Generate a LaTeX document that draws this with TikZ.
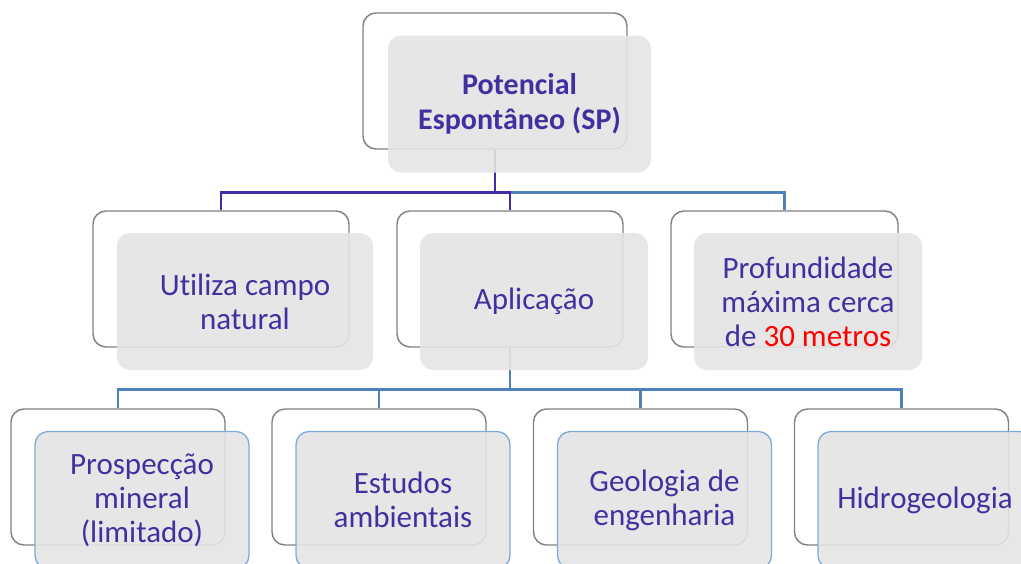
\documentclass[tikz,border=0pt]{standalone}
\usepackage{fontspec}
\setmainfont{Carlito}[Ligatures=CommonOff]
\definecolor{txtpurple}{RGB}{64,49,160}
\definecolor{linepurple}{RGB}{62,44,168}
\definecolor{lineblue}{RGB}{79,129,189}
\definecolor{backgray}{RGB}{128,128,128}
\definecolor{frontgray}{RGB}{228,228,228}
\definecolor{leafblue}{RGB}{125,170,222}
\tikzset{
  backbox/.style={draw=backgray, line width=1.4pt, rounded corners=13pt,
    fill=white, minimum height=136pt, inner sep=0pt},
  frontbox/.style={fill=frontgray, fill opacity=0.9, text opacity=1,
    rounded corners=13pt, minimum height=137pt, inner sep=0pt, align=center,
    text=txtpurple, font=\fontsize{31}{34}\selectfont},
  leafbox/.style={frontbox, draw=leafblue, line width=1.3pt, draw opacity=1},
  purpleline/.style={draw=linepurple, line width=2.5pt},
  blueline/.style={draw=lineblue, line width=2.5pt},
}
\begin{document}
\begin{tikzpicture}[x=1pt, y=-1pt]
  \useasboundingbox (0,0) rectangle (1021,563);
  \clip (0,0) rectangle (1021,563);
  % back outlines
  \node[backbox, minimum width=264pt] (topback) at (495,81) {};
  \node[backbox, minimum width=256pt] (utilback) at (221,279) {};
  \node[backbox, minimum width=226pt] (appback) at (510,279) {};
  \node[backbox, minimum width=227pt] (profback) at (784.5,279) {};
  \node[backbox, minimum width=214pt] (prospback) at (118,477) {};
  \node[backbox, minimum width=214pt] (estback) at (379,477) {};
  \node[backbox, minimum width=214pt] (geoback) at (640.5,477) {};
  \node[backbox, minimum width=214pt] (hidroback) at (901.5,477) {};
  % connectors, first level
  \draw[blueline] (topback.south) -- ++(0,43) -| (profback.north);
  \draw[purpleline] (topback.south) -- ++(0,43) -| (utilback.north);
  \draw[purpleline] (topback.south) -- ++(0,43) -| (appback.north);
  % connectors, second level
  \draw[blueline] (appback.south) -- ++(0,42) -| (prospback.north);
  \draw[blueline] (appback.south) -- ++(0,42) -| (estback.north);
  \draw[blueline] (appback.south) -- ++(0,42) -| (geoback.north);
  \draw[blueline] (appback.south) -- ++(0,42) -| (hidroback.north);
  % front boxes
  \node[frontbox, minimum width=263pt, font=\fontsize{30}{35}\selectfont\bfseries]
    (top) at ([xshift=24.5pt,yshift=-23pt]topback) {Potencial\\Espontâneo (SP)};
  \node[frontbox, minimum width=256pt] (util) at ([xshift=24pt,yshift=-22.5pt]utilback)
    {Utiliza campo\\natural};
  \node[frontbox, minimum width=228pt] (app) at ([xshift=24pt,yshift=-22.5pt]appback)
    {Aplicação};
  \node[frontbox, minimum width=228pt] (prof) at ([xshift=23.5pt,yshift=-22.5pt]profback)
    {Profundidade\\máxima cerca\\de \textcolor{red}{30 metros}};
  \node[leafbox, minimum width=214pt] (prosp) at ([xshift=24pt,yshift=-23pt]prospback)
    {Prospecção\\mineral\\(limitado)};
  \node[leafbox, minimum width=214pt] (est) at ([xshift=24pt,yshift=-23pt]estback)
    {Estudos\\ambientais};
  \node[leafbox, minimum width=214pt] (geo) at ([xshift=24pt,yshift=-23pt]geoback)
    {Geologia de\\engenharia};
  \node[leafbox, minimum width=214pt] (hidro) at ([xshift=23.5pt,yshift=-23pt]hidroback)
    {Hidrogeologia};
\end{tikzpicture}
\end{document}
